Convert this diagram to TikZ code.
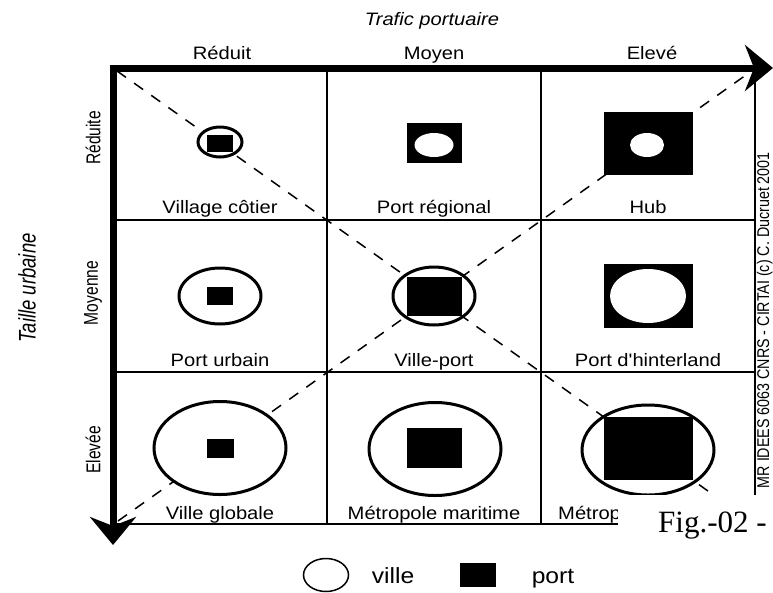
\documentclass[tikz,border=0pt]{standalone}
\usepackage{fontspec}
\setmainfont{Liberation Serif}
\newfontfamily\labfont[FakeStretch=1.12]{Liberation Sans}
\newfontfamily\rotfont[FakeStretch=0.78]{Liberation Sans}
\newfontfamily\ytfont[FakeStretch=0.77]{Liberation Sans}
\newfontfamily\cpyfont[FakeStretch=0.84]{Liberation Sans}
\usetikzlibrary{arrows.meta,shapes.geometric}
\tikzset{bigtip/.tip={Stealth[length=28pt,width=46pt,inset=9pt]}}
\begin{document}
\begin{tikzpicture}[x=1pt,y=-1pt,
  gridline/.style={line width=1.4pt},
  diag/.style={line width=1.5pt, dash pattern=on 11pt off 10pt},
  axisline/.style={line width=7pt, line join=miter},
  ville/.style={ellipse, draw, line width=3pt, fill=white, inner sep=0pt},
  portbox/.style={rectangle, fill=black, inner sep=0pt},
  hole/.style={ellipse, fill=white, inner sep=0pt},
  lab/.style={font=\labfont\fontsize{18}{21}\selectfont, inner sep=0pt, anchor=base},
  ttl/.style={font=\labfont\itshape\fontsize{18}{21}\selectfont, inner sep=0pt, anchor=base},
  rowlab/.style={font=\rotfont\fontsize{20}{24}\selectfont, inner sep=0pt, rotate=90},
  leg/.style={font=\labfont\fontsize{22}{26}\selectfont, inner sep=0pt, anchor=base}
]
\useasboundingbox (0,0) rectangle (773,592);
\fill[white] (0,0) rectangle (773,592);

% grid
\draw[gridline] (113,68) rectangle (755,524);
\draw[gridline] (327,68) -- (327,524);
\draw[gridline] (541,68) -- (541,524);
\draw[gridline] (113,220) -- (755,220);
\draw[gridline] (113,372) -- (755,372);

% diagonals
\coordinate (d1s) at (117,71);
\coordinate (d1e) at (753,523);
\coordinate (d2s) at (118,521);
\coordinate (d2e) at (753,70);
\draw[diag] (d1s) -- (d1e);
\draw[diag] (d2s) -- (d2e);

% axes
\coordinate (ax0) at (113,545);
\coordinate (axc) at (113,68);
\coordinate (ax1) at (773,68);
\draw[axisline, {bigtip}-{bigtip}] (ax0) -- (axc) -- (ax1);

% headers
\node[ttl] (title) at (432,25) {Trafic portuaire};
\node[lab] (h1) at (222,59) {Réduit};
\node[lab] (h2) at (434,59) {Moyen};
\node[lab] (h3) at (652,59) {Elevé};
\node[font=\ytfont\itshape\fontsize{24}{28}\selectfont, inner sep=0pt, rotate=90] (ytitle) at (27,288) {Taille urbaine};
\node[rowlab] (r1) at (93,138) {Réduite};
\node[rowlab] (r2) at (93,293) {Moyenne};
\node[rowlab] (r3) at (93,450) {Elevée};

% row 1
\node[ville, minimum width=44pt, minimum height=30pt] (v11) at (220,142) {};
\node[portbox, minimum width=26pt, minimum height=17pt] (p11) at (220,143) {};
\node[portbox, minimum width=55pt, minimum height=40pt] (p12) at (434,143) {};
\node[hole, minimum width=39pt, minimum height=24pt] (v12) at (434,145) {};
\node[portbox, minimum width=89pt, minimum height=63pt] (p13) at (648,143) {};
\node[hole, minimum width=34pt, minimum height=24pt] (v13) at (647,145) {};
\node[lab] (l11) at (220,213) {Village côtier};
\node[lab] (l12) at (434,213) {Port régional};
\node[lab] (l13) at (648,213) {Hub};

% row 2
\node[ville, minimum width=82pt, minimum height=56pt] (v21) at (220,296) {};
\node[portbox, minimum width=26pt, minimum height=18pt] (p21) at (220,296) {};
\node[ville, minimum width=82pt, minimum height=58pt] (v22) at (434,296) {};
\node[portbox, minimum width=55pt, minimum height=39pt] (p22) at (434,296) {};
\node[portbox, minimum width=89pt, minimum height=64pt] (p23) at (648,296) {};
\node[hole, minimum width=76pt, minimum height=54pt] (v23) at (648,296) {};
\node[lab] (l21) at (220,366) {Port urbain};
\node[lab] (l22) at (434,366) {Ville-port};
\node[lab] (l23) at (648,366) {Port d'hinterland};

% row 3
\node[ville, minimum width=132pt, minimum height=93pt] (v31) at (220,448) {};
\node[portbox, minimum width=27pt, minimum height=19pt] (p31) at (220,448) {};
\node[ville, minimum width=132pt, minimum height=93pt] (v32) at (435,449) {};
\node[portbox, minimum width=55pt, minimum height=40pt] (p32) at (434,448) {};
\node[ville, minimum width=132pt, minimum height=90pt] (v33) at (648,450) {};
\node[portbox, minimum width=89pt, minimum height=63pt] (p33) at (648,448) {};
\node[lab] (l31) at (220,519) {Ville globale};
\node[lab] (l32) at (434,519) {Métropole maritime};
\node[lab, anchor=base west] (l33) at (558,519) {Métrop};

% copyright
\node[font=\cpyfont\fontsize{17}{20}\selectfont, inner sep=0pt, rotate=90, anchor=base east] (cr) at (769,152) {MR IDEES 6063 CNRS - CIRTAI (c) C. Ducruet 2001};

% legend
\node[ellipse, draw, line width=1.5pt, minimum width=45pt, minimum height=33pt, inner sep=0pt] (lv) at (326,575) {};
\node[leg] (lvt) at (393,583) {ville};
\node[portbox, minimum width=36pt, minimum height=24pt] (lp) at (478,575) {};
\node[leg] (lpt) at (553,583) {port};

% overlay
\fill[white] (618,495) rectangle (773,592);
\node[font=\fontsize{31}{37}\selectfont, anchor=base west, inner sep=0pt] (fig) at (658,532) {Fig.-02 -};
\end{tikzpicture}
\end{document}
